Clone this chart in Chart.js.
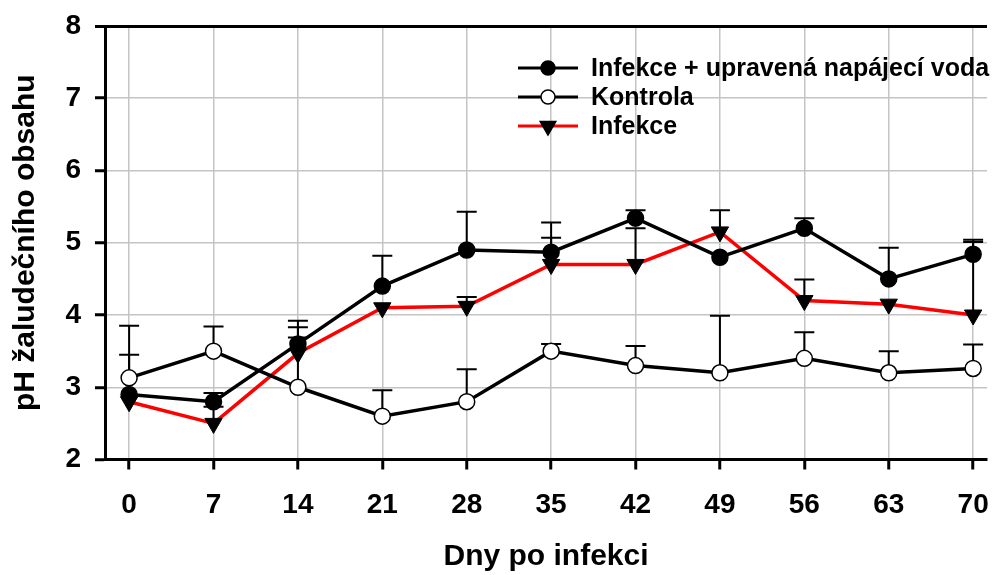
<!DOCTYPE html>
<html>
<head>
<meta charset="utf-8">
<script src="https://cdn.jsdelivr.net/npm/chart.js@4.4.1/dist/chart.umd.min.js"></script>
<style>
  html, body { margin: 0; padding: 0; background: #fff; }
  #wrap { width: 998px; height: 575px; }
</style>
</head>
<body>
<div id="wrap"><canvas id="chart"></canvas></div>
<script>
// dny po infekci
const days = [0, 7, 14, 21, 28, 35, 42, 49, 56, 63, 70];
const yTicks = [2, 3, 4, 5, 6, 7, 8];
const xMin = -2;
const xMax = 71.15; // v originale je graf vpravo oriznuty

// infekce + upravena voda (plne kolecko)
const treatedMean = [2.9, 2.8, 3.6, 4.4, 4.9, 4.87, 5.34, 4.8, 5.2, 4.5, 4.84];
const treatedErr = [0.55, 0.12, 0.32, 0.42, 0.53, 0.41, 0.11, 0, 0.14, 0.43, 0.2];

// kontrola (prazdne kolecko)
const controlMean = [3.13, 3.5, 3.0, 2.6, 2.8, 3.5, 3.3, 3.2, 3.4, 3.2, 3.26];
const controlErr = [0.72, 0.34, 0.69, 0.36, 0.45, 0.1, 0.27, 0.79, 0.36, 0.3, 0.33];

// infekce (cerveny trojuhelnik)
const infectMean = [2.8, 2.5, 3.47, 4.1, 4.12, 4.7, 4.7, 5.15, 4.2, 4.15, 4.0];
const infectErr = [0, 0.23, 0.36, 0, 0.13, 0.37, 0.5, 0.3, 0.29, 0, 1.01];

const FONT = "'Liberation Sans', Arial, sans-serif";
Chart.defaults.font.family = FONT;
Chart.defaults.color = '#000';

const toPoints = arr => arr.map((v, i) => ({ x: days[i], y: v }));

// chybove useky jen nahoru
const errorBars = {
  id: 'errorBars',
  beforeDatasetsDraw(chart) {
    const { ctx, scales: { x, y } } = chart;
    ctx.save();
    ctx.strokeStyle = '#000';
    ctx.lineWidth = 2;
    chart.data.datasets.forEach(ds => {
      ds.errors.forEach((e, i) => {
        if (!e) return;
        const px = x.getPixelForValue(ds.data[i].x);
        const py = y.getPixelForValue(ds.data[i].y);
        const top = y.getPixelForValue(ds.data[i].y + e);
        ctx.beginPath();
        ctx.moveTo(px, py);
        ctx.lineTo(px, top);
        ctx.moveTo(px - 10, top);
        ctx.lineTo(px + 10, top);
        ctx.stroke();
      });
    });
    ctx.restore();
  }
};

// legenda uvnitr grafu
const innerLegend = {
  id: 'innerLegend',
  afterDraw(chart) {
    const { ctx, chartArea } = chart;
    const x0 = chartArea.left + 413;
    const y0 = chartArea.top + 42;
    chart.data.datasets.forEach((ds, i) => {
      const y = y0 + i * 29;
      ctx.save();
      ctx.strokeStyle = ds.borderColor;
      ctx.lineWidth = 3;
      ctx.beginPath();
      ctx.moveTo(x0, y);
      ctx.lineTo(x0 + 60, y);
      ctx.stroke();
      ctx.fillStyle = ds.pointBackgroundColor;
      ctx.strokeStyle = '#000';
      ctx.lineWidth = 1.5;
      Chart.helpers.drawPoint(ctx, {
        pointStyle: ds.pointStyle,
        radius: ds.pointStyle === 'triangle' ? 9 : 7,
        rotation: ds.pointRotation || 0,
        borderWidth: 1.5
      }, x0 + 30, y);
      ctx.fillStyle = '#000';
      ctx.font = 'bold 25px ' + FONT;
      ctx.textBaseline = 'middle';
      ctx.textAlign = 'left';
      ctx.fillText(ds.label, x0 + 73, y + 1);
      ctx.restore();
    });
  }
};

new Chart(document.getElementById('chart'), {
  type: 'line',
  data: {
    datasets: [
      {
        label: 'Infekce + upravená napájecí voda',
        data: toPoints(treatedMean),
        errors: treatedErr,
        borderColor: '#000',
        borderWidth: 3.5,
        pointStyle: 'circle',
        pointRadius: 8,
        pointBackgroundColor: '#000',
        pointBorderColor: '#000',
        pointBorderWidth: 1.5
      },
      {
        label: 'Kontrola',
        data: toPoints(controlMean),
        errors: controlErr,
        borderColor: '#000',
        borderWidth: 3.5,
        pointStyle: 'circle',
        pointRadius: 8,
        pointBackgroundColor: '#fff',
        pointBorderColor: '#000',
        pointBorderWidth: 1.5
      },
      {
        label: 'Infekce',
        data: toPoints(infectMean),
        errors: infectErr,
        borderColor: '#f00',
        borderWidth: 3.5,
        pointStyle: 'triangle',
        pointRotation: 180,
        pointRadius: 10,
        pointBackgroundColor: '#000',
        pointBorderColor: '#000',
        pointBorderWidth: 1
      }
    ]
  },
  options: {
    responsive: true,
    maintainAspectRatio: false,
    animation: false,
    layout: { padding: { top: 26, right: 0, left: 0, bottom: 0 } },
    plugins: {
      legend: { display: false },
      tooltip: { enabled: false }
    },
    elements: { line: { tension: 0 } },
    scales: {
      x: {
        type: 'linear',
        min: xMin,
        max: xMax,
        afterBuildTicks: s => { s.ticks = days.map(v => ({ value: v })); },
        afterFit: s => {
          s.height = 115.5;
          s.paddingLeft = 0;
          s.paddingRight = 0;
          // plocha az k pravemu okraji (popisek 70 muze pretect)
          if (s._margins) {
            s._margins.right = 0;
            s.width = s._length = s.chart.width - s._margins.left;
          }
        },
        ticks: {
          autoSkip: false,
          maxRotation: 0,
          padding: 19,
          font: { size: 28, weight: 'bold' },
          color: '#000'
        },
        grid: {
          color: '#c4c4c4',
          lineWidth: 1.5,
          tickColor: '#000',
          tickWidth: 3,
          tickLength: 10
        },
        border: { color: '#000', width: 3 },
        title: {
          display: true,
          text: 'Dny po infekci',
          font: { size: 30, weight: 'bold' },
          color: '#000',
          padding: { top: 0, bottom: 0 }
        }
      },
      y: {
        min: 2,
        max: 8,
        afterBuildTicks: s => { s.ticks = yTicks.map(v => ({ value: v })); },
        afterFit: s => {
          s.width = 105;
          s.paddingTop = 0;
          s.paddingBottom = 0;
        },
        ticks: {
          padding: 14,
          font: { size: 28, weight: 'bold' },
          color: '#000'
        },
        grid: {
          color: c => c.tick && c.tick.value === 8 ? '#000' : '#c4c4c4',
          lineWidth: c => c.tick && c.tick.value === 8 ? 3 : 1.5,
          tickColor: '#000',
          tickWidth: 3,
          tickLength: 10
        },
        border: { color: '#000', width: 3 },
        title: {
          display: true,
          text: 'pH žaludečního obsahu',
          font: { size: 30, weight: 'bold' },
          color: '#000',
          padding: { top: 8, bottom: 4 }
        }
      }
    }
  },
  plugins: [errorBars, innerLegend]
});
</script>
</body>
</html>
